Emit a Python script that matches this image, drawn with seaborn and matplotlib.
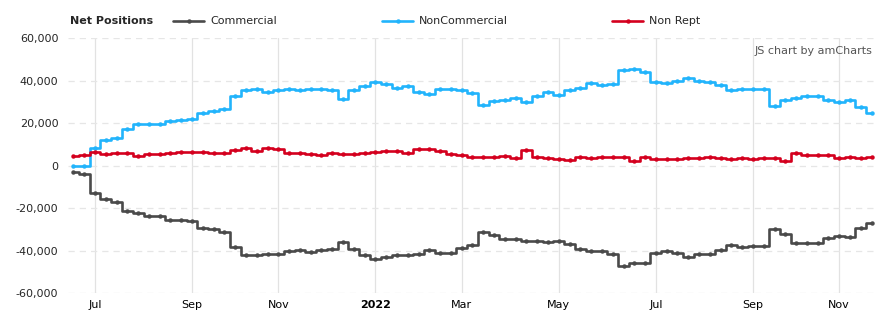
import numpy as np
import pandas as pd
import matplotlib
matplotlib.use("Agg")
import matplotlib.pyplot as plt
from matplotlib.lines import Line2D
from matplotlib.ticker import FuncFormatter
import seaborn as sns

# ---- data (weekly, thousands of contracts) ----
start_date = "2021-06-22"
n_weeks = 75

commercial = [
    -3.2, -4.1, -12.8, -15.9, -17.3, -21.5, -22.5, -23.6, -23.6, -25.5,
    -25.5, -26.3, -29.2, -29.7, -31.1, -38.2, -42.0, -42.0, -41.5, -41.5,
    -40.4, -39.8, -40.5, -39.9, -39.4, -36.0, -39.4, -42.0, -44.2, -43.2,
    -42.0, -42.0, -41.5, -39.8, -41.0, -41.0, -38.7, -37.3, -31.3, -32.8,
    -34.4, -34.4, -35.4, -35.4, -36.0, -35.3, -36.9, -39.1, -40.4, -40.4,
    -41.5, -47.1, -46.0, -46.0, -41.0, -40.3, -41.0, -42.9, -41.5, -41.5,
    -39.9, -37.3, -38.2, -37.7, -37.7, -30.0, -32.1, -36.3, -36.3, -36.3,
    -33.9, -33.0, -33.5, -29.2, -27.2,
]
noncommercial = [
    -0.3, -0.3, 8.1, 11.9, 12.9, 17.1, 19.3, 19.7, 19.7, 20.9,
    21.3, 21.8, 24.5, 25.6, 26.8, 32.5, 35.3, 36.2, 34.8, 35.3,
    35.8, 35.3, 36.2, 36.2, 35.3, 31.5, 35.3, 37.2, 39.5, 38.3,
    36.7, 37.2, 34.8, 33.7, 35.8, 36.2, 35.3, 34.3, 28.7, 30.3,
    31.0, 32.0, 30.1, 32.9, 34.5, 33.4, 35.3, 36.7, 38.8, 37.7,
    38.3, 44.9, 45.4, 43.8, 39.5, 38.8, 39.7, 41.1, 39.7, 39.2,
    38.1, 35.3, 35.8, 36.2, 35.8, 28.2, 31.0, 32.0, 32.9, 32.9,
    30.6, 30.1, 30.6, 27.3, 24.5,
]
nonrept = [
    4.5, 5.1, 6.3, 5.5, 6.1, 6.1, 4.5, 5.3, 5.3, 5.8,
    6.3, 6.3, 6.3, 5.8, 5.8, 7.2, 8.1, 7.0, 8.1, 7.7,
    6.1, 6.1, 5.5, 5.0, 5.8, 5.6, 5.6, 5.9, 6.3, 6.6,
    6.6, 6.1, 7.8, 7.8, 6.6, 5.5, 5.0, 4.2, 4.2, 4.2,
    4.7, 3.7, 7.2, 3.9, 3.4, 3.1, 2.6, 3.9, 3.3, 4.2,
    4.2, 3.9, 2.3, 3.9, 3.0, 3.0, 3.0, 3.6, 3.6, 3.9,
    3.4, 3.0, 3.4, 3.0, 3.6, 3.6, 2.3, 6.1, 4.8, 4.8,
    4.8, 3.6, 4.2, 3.6, 4.2,
]
series_names = ["Commercial", "NonCommercial", "Non Rept"]
series_colors = ["#4a4a4a", "#22b4fc", "#d4001e"]
tick_months = ["2021-07", "2021-09", "2021-11", "2022-01", "2022-03",
               "2022-05", "2022-07", "2022-09", "2022-11"]
tick_labels = ["Jul", "Sep", "Nov", "2022", "Mar", "May", "Jul", "Sep", "Nov"]
y_ticks = [-60000, -40000, -20000, 0, 20000, 40000, 60000]

dates = pd.date_range(start_date, periods=n_weeks, freq="7D")
frames = []
for name, vals in zip(series_names, [commercial, noncommercial, nonrept]):
    frames.append(pd.DataFrame({"date": dates,
                                "value": np.array(vals) * 1000.0,
                                "series": name}))
df = pd.concat(frames, ignore_index=True)

# ---- figure ----
sns.set_style("white")
plt.rcParams["font.family"] = ["DejaVu Sans"]
W, H = 893, 327
fig = plt.figure(figsize=(W / 100, H / 100), dpi=100)
ax = fig.add_axes([68 / W, 1 - 293 / H, (877 - 68) / W, (293 - 38) / H])

sns.lineplot(data=df, x="date", y="value", hue="series",
             hue_order=series_names, palette=series_colors,
             drawstyle="steps-mid", marker="o", markersize=3.2,
             markeredgewidth=0, linewidth=1.9, legend=False, ax=ax,
             sort=False)

half = pd.Timedelta(days=3.5)
ax.set_xlim(dates[0] - half, dates[-1] + half)
ax.set_ylim(-60000, 60000)

# ticks at the first data point of each labelled month
tick_pos = []
for m in tick_months:
    per = pd.Period(m, freq="M")
    sel = dates[(dates.year == per.year) & (dates.month == per.month)]
    tick_pos.append(sel[0])
ax.set_xticks(tick_pos)
ax.set_xticklabels(tick_labels, fontsize=8, color="#000000")
for lab, txt in zip(ax.get_xticklabels(), tick_labels):
    if txt == "2022":
        lab.set_fontweight("bold")
ax.set_yticks(y_ticks)
ax.yaxis.set_major_formatter(FuncFormatter(lambda v, p: f"{int(v):,}"))
for lab in ax.get_yticklabels():
    lab.set_fontsize(8)
ax.tick_params(axis="both", length=0)
ax.tick_params(axis="x", pad=5)
ax.tick_params(axis="y", pad=7)

ax.set_xlabel("")
ax.set_ylabel("")
for s in ax.spines.values():
    s.set_visible(False)

ax.grid(False)
for t in tick_pos:
    ax.axvline(t, color="#e2e2e2", linewidth=0.9, zorder=0)
for yv in y_ticks:
    ax.axhline(yv, color="#e6e6e6", linewidth=0.9, linestyle=(0, (5, 4)),
               zorder=0)

# ---- legend header ----
ly = 1 - 21 / H
fig.text(70 / W, ly, "Net Positions", fontsize=8, fontweight="bold",
         va="center", ha="left")
leg_x = [173, 382, 612]
for x0, name, col in zip(leg_x, series_names, series_colors):
    fig.add_artist(Line2D([x0 / W, (x0 + 31) / W], [ly, ly],
                          transform=fig.transFigure, color=col, lw=1.9))
    fig.add_artist(Line2D([(x0 + 15.5) / W], [ly], transform=fig.transFigure,
                          color=col, marker="o", markersize=3.2,
                          markeredgewidth=0))
    fig.text((x0 + 37) / W, ly, name, fontsize=8, va="center", ha="left")

fig.text(872 / W, 1 - 51 / H, "JS chart by amCharts", fontsize=8,
         color="#555555", ha="right", va="center")

fig.savefig("out.png", dpi=100)
